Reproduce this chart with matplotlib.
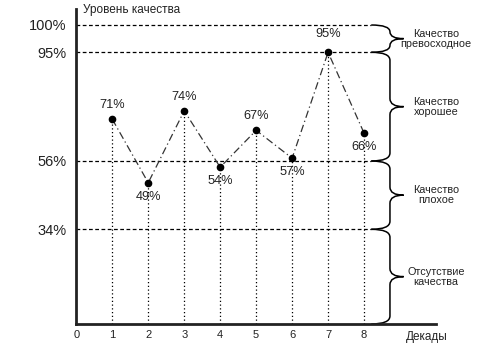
import numpy as np
import matplotlib
matplotlib.use("Agg")
import matplotlib.pyplot as plt
from matplotlib.path import Path
from matplotlib.patches import PathPatch

plt.rcParams['font.family'] = ['Liberation Sans', 'DejaVu Sans']

# ---- data ----
decades = [1, 2, 3, 4, 5, 6, 7, 8]
quality = [71, 49, 74, 54, 67, 57, 95, 66]
label_above = [True, False, True, False, True, False, True, False]
levels = [34, 56, 95, 100]
level_labels = ['34%', '56%', '95%', '100%']
x_ticks = [0, 1, 2, 3, 4, 5, 6, 7, 8]
zone_lo = [95, 56, 34, 0]
zone_hi = [100, 95, 56, 34]
zone_names = ['Качество\nпревосходное', 'Качество\nхорошее',
              'Качество\nплохое', 'Отсутствие\nкачества']
y_title = 'Уровень качества'
x_title = 'Декады'

# ---- non-linear (piecewise) y scale ----
SB = [0, 34, 56, 95, 100, 103]
SP = [0, 94.7, 163, 271.7, 299, 315]


def fwd(v):
    return np.interp(v, SB, SP)


def inv(p):
    return np.interp(p, SP, SB)


fig = plt.figure(figsize=(4.8, 3.6), dpi=100)
ax = fig.add_axes([76.3 / 480, 0.1, 359.7 / 480, 0.875])
ax.set_yscale('function', functions=(fwd, inv))
ax.set_xlim(0, 10)
ax.set_ylim(0, 103)

for s in ['top', 'right']:
    ax.spines[s].set_visible(False)
for s in ['left', 'bottom']:
    ax.spines[s].set_linewidth(2)
    ax.spines[s].set_color('#222')

ax.set_yticks(levels)
ax.set_yticklabels(level_labels)
ax.set_xticks(x_ticks)
ax.tick_params(axis='y', length=0, pad=7, labelsize=10.5, labelcolor='#222')
ax.tick_params(axis='x', length=0, pad=4, labelsize=8, labelcolor='#222')

# dashed level lines
ax.hlines(levels, 0, 8.2, colors='black', linestyles=(0, (3, 2)), lw=0.9)

# dotted verticals
ax.vlines(decades, 0, quality, colors='black', linestyles=(0, (1, 2)), lw=0.9)

# dash-dot line + markers
ax.plot(decades, quality, color='#333', lw=0.9, linestyle=(0, (6, 2.5, 1, 2.5)))
ax.plot(decades, quality, 'o', color='black', ms=4.5)

for x, y, above in zip(decades, quality, label_above):
    off = 10 if above else -10
    if y >= 95:
        off = 13
    ax.annotate(f'{y}%', (x, y), xytext=(0, off), textcoords='offset points',
                ha='center', va='center', fontsize=9.2, color='#222')

# braces in scaled coordinates
tr = ax.transLimits + ax.transAxes
xl, xv, xt = 8.2, 8.72, 9.1
for lo, hi, name in zip(zone_lo, zone_hi, zone_names):
    y0, y1 = float(fwd(lo)), float(fwd(hi))
    ym = (y0 + y1) / 2
    r = min(8, (y1 - y0) / 4)
    verts = [(xl, y1), (xv, y1), (xv, y1 - r), (xv, ym + r), (xv, ym), (xt, ym),
             (xv, ym), (xv, ym - r), (xv, y0 + r), (xv, y0), (xl, y0)]
    codes = [Path.MOVETO, Path.CURVE3, Path.CURVE3, Path.LINETO, Path.CURVE3, Path.CURVE3,
             Path.CURVE3, Path.CURVE3, Path.LINETO, Path.CURVE3, Path.CURVE3]
    ax.add_patch(PathPatch(Path(verts, codes), transform=tr, fill=False,
                           edgecolor='black', lw=1.1, clip_on=False))
    ax.text(10.0, ym, name, transform=tr, ha='center', va='center', fontsize=7.8,
            linespacing=1.0, color='#222', clip_on=False)

fig.text(83 / 480, 1 - 10 / 360, y_title, ha='left', va='center', fontsize=8.5, color='#222')
fig.text(406 / 480, 1 - 337 / 360, x_title, ha='left', va='center', fontsize=8.5, color='#222')

fig.savefig('out.png', dpi=100)
